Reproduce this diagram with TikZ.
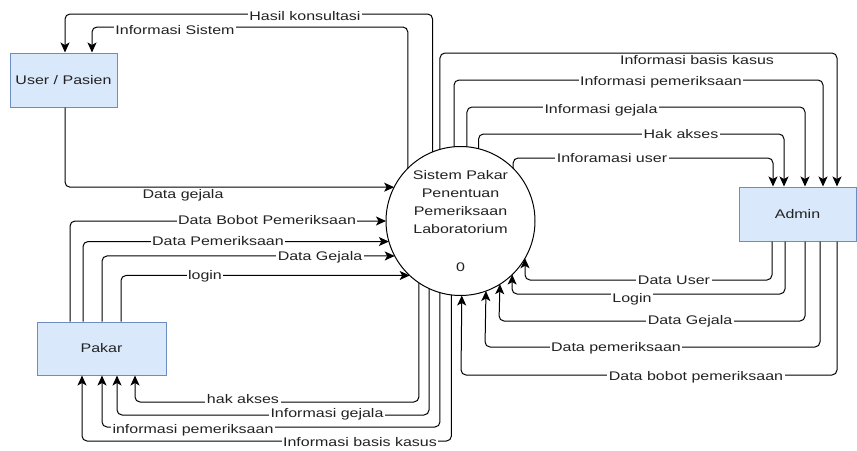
\documentclass[tikz,border=0pt]{standalone}
\usepackage{fontspec}
\setmainfont{Liberation Sans}[FakeStretch=1.28]
\usepackage{tikz}
\usetikzlibrary{arrows.meta}
\usepackage{xcolor}
\definecolor{entityfill}{HTML}{DAE8FC}
\definecolor{entityline}{HTML}{6C8EBF}
\definecolor{textgray}{HTML}{222222}

\begin{document}
\begin{tikzpicture}[
      x=1pt, y=-1pt,
      every node/.style={font=\fontsize{12.5}{18}\selectfont, text=textgray},
      entity/.style={
        rectangle,
        draw=entityline, fill=entityfill, line width=1pt,
        minimum height=54pt
      },
      process/.style={
        circle, draw=black, fill=white, line width=1pt,
        minimum size=149pt, inner sep=0pt, outer sep=0pt,
        align=center
      },
      flow/.style={
        draw=black, line width=1pt, rounded corners=5pt,
        -{Stealth[length=10pt,width=9pt,inset=2.5pt]}
      },
      lbl/.style={fill=white, inner sep=1.5pt}
    ]
      \useasboundingbox (0,0) rectangle (857,450);

      \node[process] (sys) at (460.5,221) {
        Sistem Pakar\\Penentuan\\Pemeriksaan\\Laboratorium\\[20pt]0
      };
      \node[entity, minimum width=107pt] (user) at (63.5,80) {User / Pasien};
      \node[entity, minimum width=129pt, minimum height=53pt] (pakar) at (101.5,348.5) {Pakar};
      \node[entity, minimum width=117pt] (admin) at (797.5,214) {Admin};

      % sistem <-> user / pasien
      \draw[flow] (sys.112.5) |- (65,14) -- ([xshift=1.5pt]user.north);
      \draw[flow] (sys.135.9) |- (92,27) -- ([xshift=28.5pt]user.north);
      \draw[flow] ([xshift=1.5pt]user.south) |- (sys.153.7);

      % pakar -> sistem
      \draw[flow] ([xshift=-31.5pt]pakar.north) |- (sys.180);
      \draw[flow] ([xshift=-18.5pt]pakar.north) |- (sys.196.4);
      \draw[flow] ([xshift=0.5pt]pakar.north) |- (sys.208.9);
      \draw[flow] ([xshift=19.5pt]pakar.north) |- (sys.227.6);

      % sistem -> pakar
      \draw[flow] (sys.-124.8) |- (135,402) -- ([xshift=33.5pt]pakar.south);
      \draw[flow] (sys.-115) |- (117,415) -- ([xshift=15.5pt]pakar.south);
      \draw[flow] (sys.-106.8) |- (102,427) -- ([xshift=0.5pt]pakar.south);
      \draw[flow] (sys.-97.3) |- (82,441) -- ([xshift=-19.5pt]pakar.south);

      % sistem -> admin
      \draw[flow] (sys.106) |- (837,53) -- ([xshift=39.5pt]admin.north);
      \draw[flow] (sys.95) |- (823,80) -- ([xshift=25.5pt]admin.north);
      \draw[flow] (sys.85) |- (805,107) -- ([xshift=7.5pt]admin.north);
      \draw[flow] (sys.76.4) |- (784,134) -- ([xshift=-13.5pt]admin.north);
      \draw[flow] (sys.45.2) |- (773,158) -- ([xshift=-24.5pt]admin.north);

      % admin -> sistem
      \draw[flow] ([xshift=-25.5pt]admin.south) |- (525,280) -- (sys.-30);
      \draw[flow] ([xshift=-12.5pt]admin.south) |- (512,294) -- (sys.-46.3);
      \draw[flow] ([xshift=7.5pt]admin.south) |- (499,321) -- (sys.-58.9);
      \draw[flow] ([xshift=22.5pt]admin.south) |- (485,347) -- (sys.-70.8);
      \draw[flow] ([xshift=39.5pt]admin.south) |- (461,375) -- (sys.-89.6);

      % labels
      \node[lbl] (lhasil) at (305,16) {Hasil konsultasi};
      \node[lbl] (linfosis) at (175,30) {Informasi Sistem};
      \node[lbl] (ldgejala) at (183,195) {Data gejala};
      \node[lbl] (lbobot) at (267,220) {Data Bobot Pemeriksaan};
      \node[lbl] (lperiksa) at (218,241) {Data Pemeriksaan};
      \node[lbl] (lgejalap) at (320,257) {Data Gejala};
      \node[lbl] (llogin) at (205,276) {login};
      \node[lbl] (lhakp) at (243,399) {hak akses};
      \node[lbl] (linfgp) at (327,414) {Informasi gejala};
      \node[lbl] (linfpp) at (193,430) {informasi pemeriksaan};
      \node[lbl] (linfbp) at (360,442) {Informasi basis kasus};
      \node[lbl] (linfba) at (697,60) {Informasi basis kasus};
      \node[lbl] (linfpa) at (661,82) {Informasi pemeriksaan};
      \node[lbl] (linfga) at (601,110) {Informasi gejala};
      \node[lbl] (lhaka) at (681,134) {Hak akses};
      \node[lbl] (luser) at (612,158) {Inforamasi user};
      \node[lbl] (lduser) at (674,280) {Data User};
      \node[lbl] (lloga) at (632,299) {Login};
      \node[lbl] (lgejalaa) at (690,321) {Data Gejala};
      \node[lbl] (lperiksaa) at (616,348) {Data pemeriksaan};
      \node[lbl] (lbobota) at (696,377) {Data bobot pemeriksaan};
    \end{tikzpicture}
\end{document}
